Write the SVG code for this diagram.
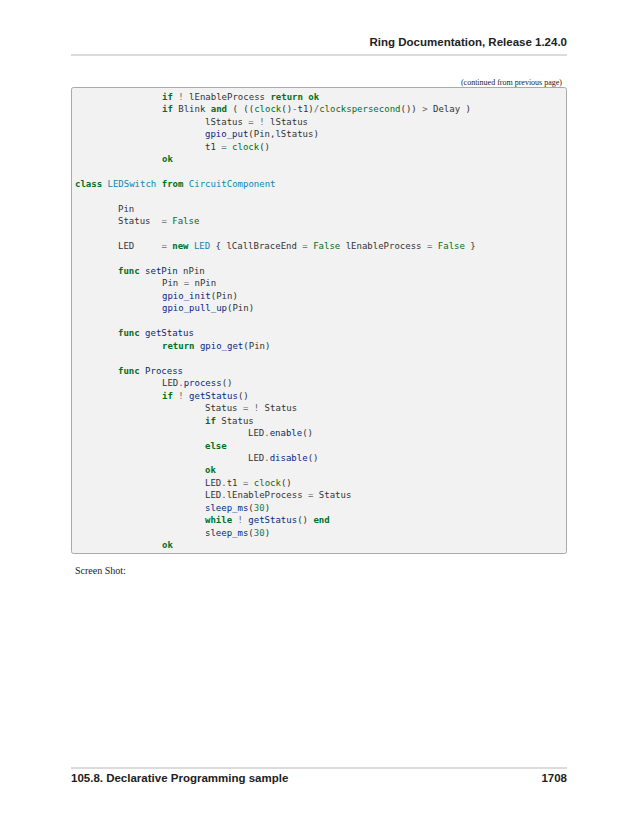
<svg xmlns="http://www.w3.org/2000/svg" width="638" height="825" viewBox="0 0 638 825">
<style>
.c{font-family:"DejaVu Sans Mono",monospace;font-size:9px;fill:#333;white-space:pre}
.k{fill:#007020;font-weight:bold}
.b{fill:#007020}
.f{fill:#06287e}
.n{fill:#0e84b5}
.o{fill:#666}
.m{fill:#208050}
.h{font-family:"Liberation Sans",Arial,sans-serif;font-weight:bold;font-size:11.5px;fill:#222}
.s{font-family:"Liberation Serif",serif;fill:#222}
</style>
<rect width="638" height="825" fill="#fff"/>
<text class="h" x="567" y="46" text-anchor="end">Ring Documentation, Release 1.24.0</text>
<line x1="71" y1="55" x2="567" y2="55" stroke="#999" stroke-width="0.7"/>
<text class="s" x="562" y="85" font-size="8" text-anchor="end">(continued from previous page)</text>
<rect x="71.5" y="87.5" width="495" height="466" rx="2" fill="#f2f2f2" stroke="#aaa" stroke-width="1"/>
<g id="code" class="c">
<text x="162" y="100" xml:space="preserve"><tspan class="k">if</tspan> <tspan class="o">!</tspan> lEnableProcess <tspan class="k">return</tspan> <tspan class="k">ok</tspan></text>
<text x="162" y="112" xml:space="preserve"><tspan class="k">if</tspan> Blink <tspan class="k">and</tspan> ( ((<tspan class="b">clock</tspan>()<tspan class="o">-</tspan>t1)<tspan class="o">/</tspan><tspan class="b">clockspersecond</tspan>()) <tspan class="o">&gt;</tspan> Delay )</text>
<text x="205" y="125" xml:space="preserve">lStatus <tspan class="o">=</tspan> <tspan class="o">!</tspan> lStatus</text>
<text x="205" y="137"><tspan class="f">gpio_put</tspan>(Pin,lStatus)</text>
<text x="205" y="150" xml:space="preserve">t1 <tspan class="o">=</tspan> <tspan class="b">clock</tspan>()</text>
<text x="162" y="162" class="k">ok</text>
<text x="75" y="187" xml:space="preserve"><tspan class="k">class</tspan> <tspan class="n">LEDSwitch</tspan> <tspan class="k">from</tspan> <tspan class="n">CircuitComponent</tspan></text>
<text x="118" y="212">Pin</text>
<text x="118" y="224">Status</text>
<text x="161.4" y="224" xml:space="preserve"><tspan class="o">=</tspan> <tspan class="b">False</tspan></text>
<text x="118" y="249">LED</text>
<text x="161.4" y="249" xml:space="preserve"><tspan class="o">=</tspan> <tspan class="k">new</tspan> <tspan class="n">LED</tspan> { lCallBraceEnd <tspan class="o">=</tspan> <tspan class="b">False</tspan> lEnableProcess <tspan class="o">=</tspan> <tspan class="b">False</tspan> }</text>
<text x="118" y="274" xml:space="preserve"><tspan class="k">func</tspan> <tspan class="f">setPin</tspan> nPin</text>
<text x="162" y="286" xml:space="preserve">Pin <tspan class="o">=</tspan> nPin</text>
<text x="162" y="299"><tspan class="f">gpio_init</tspan>(Pin)</text>
<text x="162" y="311"><tspan class="f">gpio_pull_up</tspan>(Pin)</text>
<text x="118" y="336" xml:space="preserve"><tspan class="k">func</tspan> <tspan class="f">getStatus</tspan></text>
<text x="162" y="349" xml:space="preserve"><tspan class="k">return</tspan> <tspan class="f">gpio_get</tspan>(Pin)</text>
<text x="118" y="374" xml:space="preserve"><tspan class="k">func</tspan> <tspan class="f">Process</tspan></text>
<text x="162" y="386">LED<tspan class="o">.</tspan><tspan class="f">process</tspan>()</text>
<text x="162" y="399" xml:space="preserve"><tspan class="k">if</tspan> <tspan class="o">!</tspan> <tspan class="f">getStatus</tspan>()</text>
<text x="205" y="411" xml:space="preserve">Status <tspan class="o">=</tspan> <tspan class="o">!</tspan> Status</text>
<text x="205" y="424" xml:space="preserve"><tspan class="k">if</tspan> Status</text>
<text x="248" y="436">LED<tspan class="o">.</tspan><tspan class="f">enable</tspan>()</text>
<text x="205" y="449" class="k">else</text>
<text x="248" y="461">LED<tspan class="o">.</tspan><tspan class="f">disable</tspan>()</text>
<text x="205" y="473" class="k">ok</text>
<text x="205" y="486" xml:space="preserve">LED<tspan class="o">.</tspan>t1 <tspan class="o">=</tspan> <tspan class="b">clock</tspan>()</text>
<text x="205" y="498" xml:space="preserve">LED<tspan class="o">.</tspan>lEnableProcess <tspan class="o">=</tspan> Status</text>
<text x="205" y="511"><tspan class="f">sleep_ms</tspan>(<tspan class="m">30</tspan>)</text>
<text x="205" y="523" xml:space="preserve"><tspan class="k">while</tspan> <tspan class="o">!</tspan> <tspan class="f">getStatus</tspan>() <tspan class="k">end</tspan></text>
<text x="205" y="536"><tspan class="f">sleep_ms</tspan>(<tspan class="m">30</tspan>)</text>
<text x="162" y="548" class="k">ok</text>
</g>
<text class="s" x="75" y="574" font-size="10">Screen Shot:</text>
<line x1="71" y1="768" x2="567" y2="768" stroke="#999" stroke-width="0.7"/>
<text class="h" x="71" y="782">105.8. Declarative Programming sample</text>
<text class="h" x="567" y="782" text-anchor="end">1708</text>
</svg>
